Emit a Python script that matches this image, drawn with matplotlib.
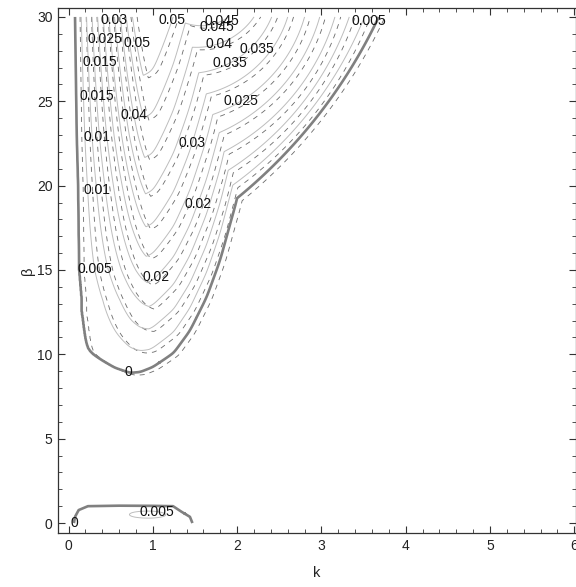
import numpy as np
import matplotlib.pyplot as plt

plt.rcParams['font.family'] = ['Liberation Sans', 'DejaVu Sans']

# contour levels
levels = [0.005, 0.01, 0.015, 0.02, 0.025, 0.03, 0.035, 0.04, 0.045, 0.05]
# beta at the bottom of each U shaped contour (k ~ 1)
u_bottom = [10.0, 11.4, 12.8, 14.3, 16.0, 17.7, 19.5, 21.6, 24.0, 26.7]
u_floor = 9.15

# lower edge of the U (zero contour), k -> beta
edge_k = [0.157, 0.17, 0.196, 0.24, 0.29, 0.41, 0.55, 0.73, 0.85, 1.0, 1.15,
          1.25, 1.44, 1.64, 1.8, 1.91, 2.0, 2.1, 2.3, 2.5, 6.0]
edge_b = [13.2, 11.8, 10.65, 10.25, 10.0, 9.6, 9.2, 8.9, 8.95, 9.25, 9.75,
          10.1, 11.4, 13.4, 15.6, 17.6, 19.2, 21.6, 27.0, 33.0, 100.0]
# left edge of the U, beta -> k
left_b = [13.2, 15.0, 20.0, 23.0, 30.0]
left_k = [0.155, 0.125, 0.113, 0.097, 0.077]

# arcs on the right: for each level, where it breaks off the U arm,
# its slope there (beta per k) and where it leaves the top (beta = 30)
arc_level = [0.0, 0.005, 0.01, 0.015, 0.02, 0.025, 0.03, 0.035, 0.04, 0.045]
kink_k = [2.01, 1.94, 1.86, 1.8, 1.72, 1.64, 1.6, 1.56, 1.5, 1.41]
kink_b = [19.3, 20.0, 20.8, 21.9, 23.0, 24.1, 25.4, 26.7, 28.2, 29.6]
kink_slope = [4.1, 3.6, 3.1, 2.5, 2.0, 1.5, 1.1, 0.7, -0.1, -1.5]
top_k = [3.68, 3.51, 3.33, 3.16, 2.98, 2.8, 2.6, 2.41, 2.2, 1.9]
aspect = 0.2   # beta units -> k units on screen

# small lobe near beta = 0
lobe_k = [0.0, 0.06, 0.077, 0.12, 0.23, 0.6, 1.0, 1.24, 1.34, 1.44, 1.47, 1.55, 6.0]
lobe_top = [-0.6, -0.1, 0.37, 0.77, 1.0, 1.03, 1.02, 1.0, 0.67, 0.37, 0.0, -0.5, -0.5]
lobe_peak = 0.005
lobe_centre = 0.95


def smooth(y, n):
    w = np.exp(-0.5 * (np.arange(-3 * n, 3 * n + 1) / n) ** 2)
    w /= w.sum()
    return np.convolve(np.pad(y, 3 * n, mode='edge'), w, mode='valid')


def lin(x, xs, ys):
    xs, ys = np.asarray(xs), np.asarray(ys)
    out = np.interp(x, xs, ys)
    s0 = (ys[1] - ys[0]) / (xs[1] - xs[0])
    s1 = (ys[-1] - ys[-2]) / (xs[-1] - xs[-2])
    out = np.where(x < xs[0], ys[0] + s0 * (x - xs[0]), out)
    return np.where(x > xs[-1], ys[-1] + s1 * (x - xs[-1]), out)


kk = np.linspace(-1.0, 7.0, 1601)
edge_fine = smooth(np.interp(kk, edge_k, edge_b), 5)

d_tab = np.array(u_bottom) - u_floor
c_tab = np.array(levels)
A = np.vstack([d_tab, d_tab ** 2, d_tab ** 3]).T
coef = np.linalg.lstsq(A, c_tab, rcond=None)[0]


def rise(d):
    d1 = d_tab[-1]
    dc = np.clip(d, 0, d1)
    out = coef[0] * dc + coef[1] * dc ** 2 + coef[2] * dc ** 3
    slope1 = coef[0] + 2 * coef[1] * d1 + 3 * coef[2] * d1 ** 2
    out = np.where(d < 0, coef[0] * d, out)
    return np.where(d > d1, out + slope1 * (d - d1), out)


# one circle (screen space) per arc level, through the break point and the top exit
pk = np.array(kink_k)
pv = np.array(kink_b) * aspect
sv = np.array(kink_slope) * aspect
nx, ny = -sv / np.hypot(1, sv), 1 / np.hypot(1, sv)
dx, dy = pk - np.array(top_k), pv - 30 * aspect
arc_r = -(dx * dx + dy * dy) / (2 * (dx * nx + dy * ny))
arc_cu, arc_cv = pk + arc_r * nx, pv + arc_r * ny

cut_b = [0.0, 17.0] + kink_b + [36.0]
cut_k = [6.0, 2.6] + [x - 0.03 for x in kink_k] + [1.0]


def main_field(k, b):
    # U shaped part
    lk = np.interp(b, left_b, left_k)
    x = (k - lk) / 0.8
    sl = 1 - np.clip(1 - x, 0, None) ** 1.1
    ramp = 0.5 * ((k - 1) + np.sqrt((k - 1) ** 2 + 0.05 ** 2))
    sr = np.maximum(1 - 0.36 * ramp, 0.45)
    s = sl * sr
    d = b - np.interp(k, kk, edge_fine)
    gd = rise(d)
    f1 = np.where((d > 0) & (s > 0), gd * s, np.minimum(gd, 0.05 * s))

    # arcs: level whose circle passes through the point
    u, v = k, b * aspect
    lo = np.full(k.shape, -0.05)
    hi = np.full(k.shape, 0.06)
    for _ in range(36):
        mid = 0.5 * (lo + hi)
        cu = lin(mid, arc_level, arc_cu)
        cv = lin(mid, arc_level, arc_cv)
        rr = lin(mid, arc_level, arc_r)
        inside = np.hypot(u - cu, v - cv) < rr
        lo = np.where(inside, mid, lo)
        hi = np.where(inside, hi, mid)
    f2 = 0.5 * (lo + hi)

    # arcs only count right of the break line
    gap = np.interp(b, cut_b, cut_k) - k
    cut = np.where(gap > 0, 0.1 * gap + 2 * gap ** 2, 0)
    return np.maximum(f1, f2 - cut)


def lobe_field(k, b):
    top = np.interp(k, lobe_k, lobe_top)
    amp = lobe_peak * np.exp(-((k - lobe_centre) / 0.5) ** 2) + 0.0005
    return amp * 4 * (b + 0.02) * (top - b)


kg = np.linspace(0, 6, 1201)
bg = np.linspace(0, 30, 601)
K, Bt = np.meshgrid(kg, bg)
f = np.maximum(main_field(K, Bt), lobe_field(K, Bt))
g = main_field(K - 0.06, Bt + 0.15)

fig = plt.figure(figsize=(5.76, 5.87), dpi=100)
ax = fig.add_axes([58 / 576, 54 / 587, 518 / 576, 525 / 587])

fmt = lambda v: f'{v:g}'
nd = len(levels) + 1
cs_d = ax.contour(K, Bt, g, levels=[0] + levels, colors='#6a6a6a', linewidths=0.6,
                  linestyles=[(0, (6, 6))] * nd)
cs_s = ax.contour(K, Bt, f, levels=levels, colors='#bdbdbd', linewidths=0.7)
cs_0 = ax.contour(K, Bt, f, levels=[0], colors='#808080', linewidths=1.9)

spots_s = [(0.82, 28.45), (0.79, 24.2), (0.34, 25.3), (0.29, 19.7), (0.34, 15.1),
           (1.06, 14.5), (1.48, 22.5), (1.5, 19.0), (1.26, 29.8), (1.8, 29.9),
           (1.81, 28.0), (1.94, 27.0), (2.04, 25.1), (1.05, 0.6), (0.43, 28.7)]
spots_d = [(0.53, 29.8), (0.36, 27.3), (0.35, 22.9), (1.76, 29.5),
           (2.19, 28.3), (3.59, 29.7)]
spots_0 = [(0.72, 9.2), (0.065, 0.0)]
for cs, spots in [(cs_s, spots_s), (cs_d, spots_d), (cs_0, spots_0)]:
    texts = ax.clabel(cs, inline=False, fontsize=10, colors='#111111', fmt=fmt, manual=spots)
    for t in texts:
        t.set_rotation(0)

ax.set_xlim(-0.125, 6.02)
ax.set_ylim(-0.59, 30.53)
ax.set_xticks(range(7))
ax.set_xticks(np.arange(0, 6.01, 0.2), minor=True)
ax.set_yticks(range(0, 31, 5))
ax.set_yticks(range(0, 31), minor=True)
ax.tick_params(which='both', direction='in', top=True, right=True, colors='#333333',
               labelcolor='#222222', labelsize=10)
ax.tick_params(which='major', length=5, width=0.8, pad=4)
ax.tick_params(which='minor', length=2.8, width=0.6)
for sp in ax.spines.values():
    sp.set_color('#333333')
    sp.set_linewidth(0.9)
ax.set_xlabel('k', fontsize=10.5, color='#222222', labelpad=10)
ax.set_ylabel('β', fontsize=10.5, color='#222222', labelpad=1.5)

fig.savefig('out.png', dpi=100)
